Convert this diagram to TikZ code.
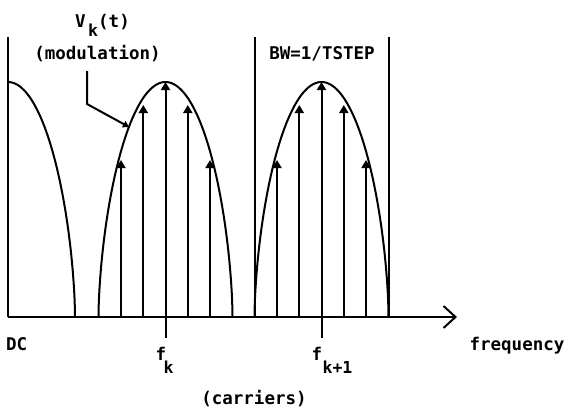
\documentclass[tikz,border=0pt]{standalone}
\usepackage{fontspec}
\newfontfamily\monofnt{DejaVu Sans Mono}
\usetikzlibrary{arrows.meta}
\tikzset{
  lbl/.style={font=\monofnt\bfseries\fontsize{17.5}{17.5}\selectfont, inner sep=0pt, anchor=base},
  sublbl/.style={font=\monofnt\bfseries\fontsize{16.5}{16.5}\selectfont, inner sep=0pt, anchor=base},
  ln/.style={line width=2pt},
  carrier/.style={line width=2pt, -{Triangle[width=9pt,length=8pt]}},
  leader/.style={line width=2pt, -{Triangle[width=7pt,length=6pt]}},
  lobe/.style={line width=2pt},
}
\begin{document}
\begin{tikzpicture}[x=1pt,y=-1pt]
\useasboundingbox (0,0) rectangle (569,407);
% axis
\coordinate (origin) at (8,317);
\coordinate (axend) at (457,317);
\draw[ln, -{Straight Barb[length=12pt,width=22pt]}] (origin) -- (axend);
% band edges
\coordinate (b0t) at (8,37);
\coordinate (b1t) at (254.5,37);
\coordinate (b1b) at (254.5,317);
\coordinate (b2t) at (389,37);
\coordinate (b2b) at (389,317);
\draw[ln] (b0t) -- (origin);
\draw[ln] (b1t) -- (b1b);
\draw[ln] (b2t) -- (b2b);
% lobes
\draw[lobe] plot[domain=0:89.99, samples=60, smooth, variable=\t]
  ({8+67*sin(\t)}, {317-235*pow(cos(\t),1.2)});
\draw[lobe] plot[domain=-89.99:89.99, samples=121, smooth, variable=\t]
  ({165.5+67*sin(\t)}, {317-235*pow(cos(\t),1.2)});
\draw[lobe] plot[domain=-89.99:89.99, samples=121, smooth, variable=\t]
  ({321.5+67*sin(\t)}, {317-235*pow(cos(\t),1.2)});
% carriers
\foreach \n/\x/\y in {a1/121/160, a2/143.3/105, a3/165.5/82, a4/187.8/105, a5/210/160,
                      c1/277/160, c2/299.3/105, c3/321.5/82, c4/343.8/105, c5/366/160}{
  \coordinate (\n b) at (\x,317);
  \coordinate (\n t) at (\x,\y);
  \draw[carrier] (\n b) -- (\n t);
}
% ticks
\coordinate (tk1) at (165.5,338);
\coordinate (tk2) at (321.5,338);
\draw[ln] (a3b) -- (tk1);
\draw[ln] (c3b) -- (tk2);
% labels
\node[lbl] (V) at (80.5,27) {V};
\node[lbl] (Vt) at (114,27) {(t)};
\node[sublbl] (Vk) at (93,36) {k};
\node[lbl] (mod) at (97.5,59.5) {(modulation)};
\node[lbl] (bw) at (322,59.5) {BW=1/TSTEP};
\node[lbl, anchor=base west] (dc) at (6,350) {DC};
\node[lbl] (freq) at (517,350) {frequency};
\node[lbl] (car) at (254,404) {(carriers)};
\node[lbl] (fk) at (161,360) {f};
\node[sublbl] (fks) at (168.5,373) {k};
\node[lbl] (fk1) at (317,360) {f};
\node[sublbl] (fk1s) at (337.5,373) {k+1};
% leader
\coordinate (ld0) at (87,71);
\coordinate (ld1) at (87,104);
\coordinate (ld2) at (129,127);
\draw[leader] (ld0) -- (ld1) -- (ld2);
\end{tikzpicture}
\end{document}
